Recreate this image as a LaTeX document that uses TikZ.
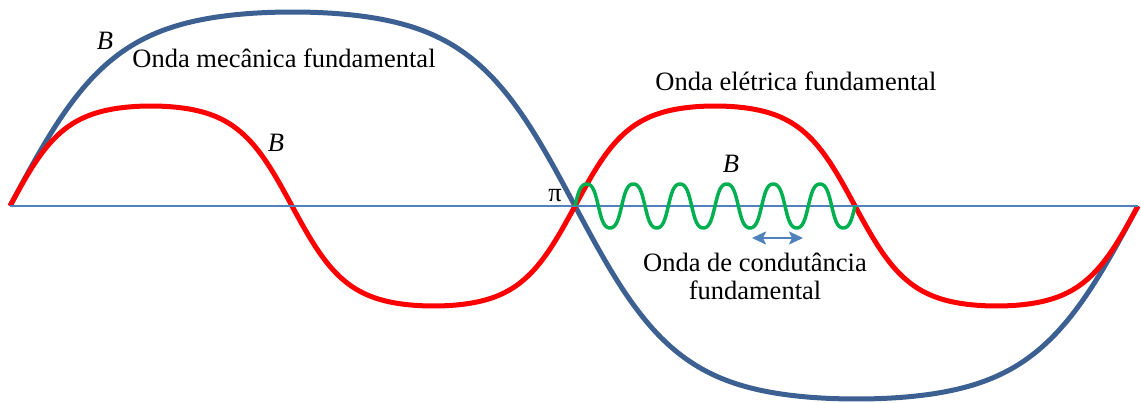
\documentclass[tikz,border=0pt]{standalone}
\usepackage{fontspec}
\setmainfont{Liberation Serif}
\usetikzlibrary{arrows.meta}
\definecolor{axisblue}{RGB}{79,129,189}
\definecolor{mechblue}{RGB}{60,96,145}
\definecolor{elecred}{RGB}{255,0,0}
\definecolor{condgreen}{RGB}{0,176,80}
\tikzset{
  lbl/.style={anchor=base, inner sep=0pt, font=\fontsize{26.5}{28}\selectfont},
  mech/.style={draw=mechblue, line width=5pt, line join=round},
  elec/.style={draw=elecred, line width=5pt, line join=round},
  cond/.style={draw=condgreen, line width=3.5pt, line join=round},
  axisline/.style={draw=axisblue, line width=2pt},
  dblarrow/.style={draw=axisblue, line width=2pt, {Stealth[length=14pt,width=13pt,inset=3pt]}-{Stealth[length=14pt,width=13pt,inset=3pt]}}
}
\begin{document}
\begin{tikzpicture}[x=1pt,y=-1pt]
\useasboundingbox (0,0) rectangle (1141,403);
% mechanical wave (blue)
\draw[mech] plot[domain=10:575, samples=160, smooth] (\x, {206-194*tanh(1.6*sin((\x-10)/565*180))/tanh(1.6)})
  -- plot[domain=575:1138, samples=160, smooth] (\x, {206+193*tanh(1.6*sin((\x-575)/563*180))/tanh(1.6)});
% electrical wave (red)
\draw[elec] plot[domain=10:292, samples=90, smooth] (\x, {206-100*tanh(1.5*sin((\x-10)/282*180))/tanh(1.5)})
  -- plot[domain=292:575, samples=90, smooth] (\x, {206+100*tanh(1.5*sin((\x-292)/283*180))/tanh(1.5)})
  -- plot[domain=575:855, samples=90, smooth] (\x, {206-100*tanh(1.5*sin((\x-575)/280*180))/tanh(1.5)})
  -- plot[domain=855:1138, samples=90, smooth] (\x, {206+100*tanh(1.5*sin((\x-855)/283*180))/tanh(1.5)});
% axis
\coordinate (axL) at (10,206);
\coordinate (axR) at (1138,206);
\draw[axisline] (axL) -- (axR);
% conductance wave (green)
\draw[cond] plot[domain=575:855, samples=300, smooth] (\x, {206-22*tanh(1.2*sin((\x-575)/280*6*360))/tanh(1.2)});
% double arrow
\coordinate (arL) at (752,238);
\coordinate (arR) at (803,238);
\draw[dblarrow] (arL) -- (arR);
% labels
\node[lbl] (b1) at (105,50) {\itshape B};
\node[lbl] (mechlbl) at (284,68) {Onda mecânica fundamental};
\node[lbl] (b2) at (276,152) {\itshape B};
\node[lbl] (eleclbl) at (796,91) {Onda elétrica fundamental};
\node[lbl] (b3) at (731,173) {\itshape B};
\node[lbl] (pi) at (555,202) {π};
\node[lbl, align=center, anchor=base] (condlbl) at (755,300) {Onda de condutância\\fundamental};
\end{tikzpicture}
\end{document}
